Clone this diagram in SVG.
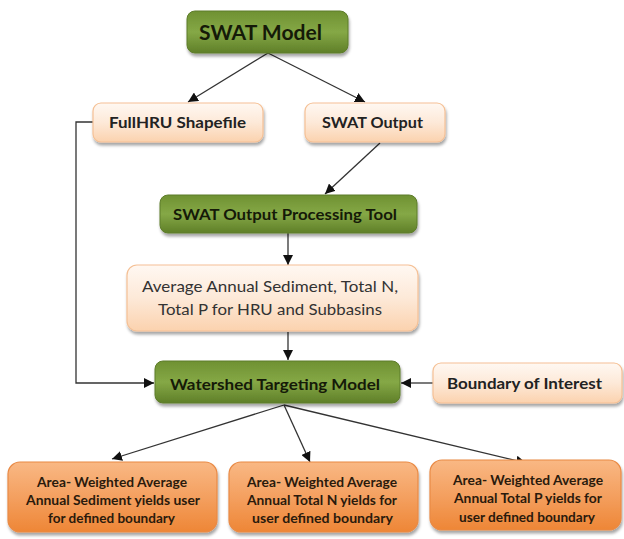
<svg xmlns="http://www.w3.org/2000/svg" width="624" height="539" viewBox="0 0 624 539">
<defs>
<linearGradient id="gGreen" x1="0" y1="0" x2="0" y2="1">
<stop offset="0" stop-color="#6f9132"/>
<stop offset="0.5" stop-color="#85a846"/>
<stop offset="1" stop-color="#5f7f28"/>
</linearGradient>
<linearGradient id="gPeach" x1="0" y1="0" x2="0" y2="1">
<stop offset="0" stop-color="#fff8f2"/>
<stop offset="0.5" stop-color="#fde9d8"/>
<stop offset="1" stop-color="#fbd2ae"/>
</linearGradient>
<linearGradient id="gOrange" x1="0" y1="0" x2="0" y2="1">
<stop offset="0" stop-color="#f9b884"/>
<stop offset="0.5" stop-color="#f4a060"/>
<stop offset="1" stop-color="#ee8636"/>
</linearGradient>
<filter id="sh" x="-10%" y="-10%" width="125%" height="140%">
<feDropShadow dx="1" dy="3" stdDeviation="1.5" flood-color="#000" flood-opacity="0.35"/>
</filter>
<marker id="ah" viewBox="0 0 10 10" refX="10" refY="5" markerWidth="10" markerHeight="10" markerUnits="userSpaceOnUse" orient="auto">
<path d="M0,0 L10,5 L0,10 z" fill="#111"/>
</marker>
<style>
.green{fill:url(#gGreen);stroke:#5d7c2a;stroke-width:1;filter:url(#sh)}
.peach{fill:url(#gPeach);stroke:#f5c095;stroke-width:1.2;filter:url(#sh)}
.orange{fill:url(#gOrange);stroke:#e98a45;stroke-width:1.2;filter:url(#sh)}
text{font-family:Lato,"Open Sans","Liberation Sans",sans-serif;}
.tg{fill:#151a08;font-weight:bold}
.tp{fill:#222;font-weight:bold}
.tn{fill:#333;font-weight:normal}
.to{fill:#2a1a0c;font-weight:bold;font-size:14px}
.c{fill:none;stroke:#333;stroke-width:1.3}
</style>
</defs>
<g id="connectors">
<line class="c" x1="268" y1="53" x2="188" y2="102" marker-end="url(#ah)"/>
<line class="c" x1="268" y1="53" x2="365" y2="102" marker-end="url(#ah)"/>
<line class="c" x1="380" y1="143" x2="325" y2="194" marker-end="url(#ah)"/>
<line class="c" x1="288" y1="233" x2="288" y2="265" marker-end="url(#ah)"/>
<line class="c" x1="288" y1="332" x2="288" y2="360" marker-end="url(#ah)"/>
<polyline class="c" points="93,122 76,122 76,383 154,383" marker-end="url(#ah)"/>
<line class="c" x1="433" y1="383" x2="401" y2="383" marker-end="url(#ah)"/>
<line class="c" x1="284" y1="405" x2="112" y2="459" marker-end="url(#ah)"/>
<line class="c" x1="284" y1="405" x2="310" y2="462" marker-end="url(#ah)"/>
<line class="c" x1="284" y1="405" x2="526" y2="463" marker-end="url(#ah)"/>
</g>
<g id="swat-model">
<rect class="green" x="187" y="11" width="161" height="42" rx="8"/>
<text class="tg" x="199" y="40" font-size="21" textLength="123" lengthAdjust="spacingAndGlyphs">SWAT Model</text>
</g>
<g id="fullhru">
<rect class="peach" x="93" y="103" width="170" height="39" rx="8"/>
<text class="tp" x="109" y="128" font-size="15" textLength="137" lengthAdjust="spacingAndGlyphs">FullHRU Shapefile</text>
</g>
<g id="swat-output">
<rect class="peach" x="305" y="103" width="140" height="39" rx="8"/>
<text class="tp" x="322" y="128" font-size="15" textLength="101" lengthAdjust="spacingAndGlyphs">SWAT Output</text>
</g>
<g id="processing-tool">
<rect class="green" x="160" y="195" width="257" height="38" rx="8"/>
<text class="tg" x="173" y="219.5" font-size="16" textLength="224" lengthAdjust="spacingAndGlyphs">SWAT Output Processing Tool</text>
</g>
<g id="average-annual">
<rect class="peach" x="127" y="265" width="291" height="66" rx="10"/>
<text class="tn" x="142" y="292" font-size="15" textLength="256" lengthAdjust="spacingAndGlyphs">Average Annual Sediment, Total N,</text>
<text class="tn" x="158" y="315" font-size="15" textLength="224" lengthAdjust="spacingAndGlyphs">Total P for HRU and Subbasins</text>
</g>
<g id="watershed-targeting-model">
<rect class="green" x="155" y="361" width="245" height="42" rx="8"/>
<text class="tg" x="170" y="389.5" font-size="16" textLength="210" lengthAdjust="spacingAndGlyphs">Watershed Targeting Model</text>
</g>
<g id="boundary-of-interest">
<rect class="peach" x="433" y="363" width="189" height="40" rx="8"/>
<text class="tp" x="447" y="389" font-size="15" textLength="155" lengthAdjust="spacingAndGlyphs">Boundary of Interest</text>
</g>
<g id="sediment-yields">
<rect class="orange" x="8" y="462" width="209" height="70" rx="12"/>
<text class="to" x="37" y="487" textLength="150" lengthAdjust="spacingAndGlyphs">Area- Weighted Average</text>
<text class="to" x="26" y="505" textLength="174" lengthAdjust="spacingAndGlyphs">Annual Sediment yields user</text>
<text class="to" x="48" y="523" textLength="127" lengthAdjust="spacingAndGlyphs">for defined  boundary</text>
</g>
<g id="total-n-yields">
<rect class="orange" x="229" y="462" width="189" height="70" rx="12"/>
<text class="to" x="247" y="487" textLength="150" lengthAdjust="spacingAndGlyphs">Area- Weighted Average</text>
<text class="to" x="247" y="505" textLength="150" lengthAdjust="spacingAndGlyphs">Annual Total N yields for</text>
<text class="to" x="252" y="523" textLength="141" lengthAdjust="spacingAndGlyphs">user defined  boundary</text>
</g>
<g id="total-p-yields">
<rect class="orange" x="430" y="460" width="191" height="70" rx="12"/>
<text class="to" x="453" y="485" textLength="150" lengthAdjust="spacingAndGlyphs">Area- Weighted Average</text>
<text class="to" x="454" y="503" textLength="148" lengthAdjust="spacingAndGlyphs">Annual Total P yields for</text>
<text class="to" x="459" y="522" textLength="136" lengthAdjust="spacingAndGlyphs">user defined  boundary</text>
</g>
</svg>
